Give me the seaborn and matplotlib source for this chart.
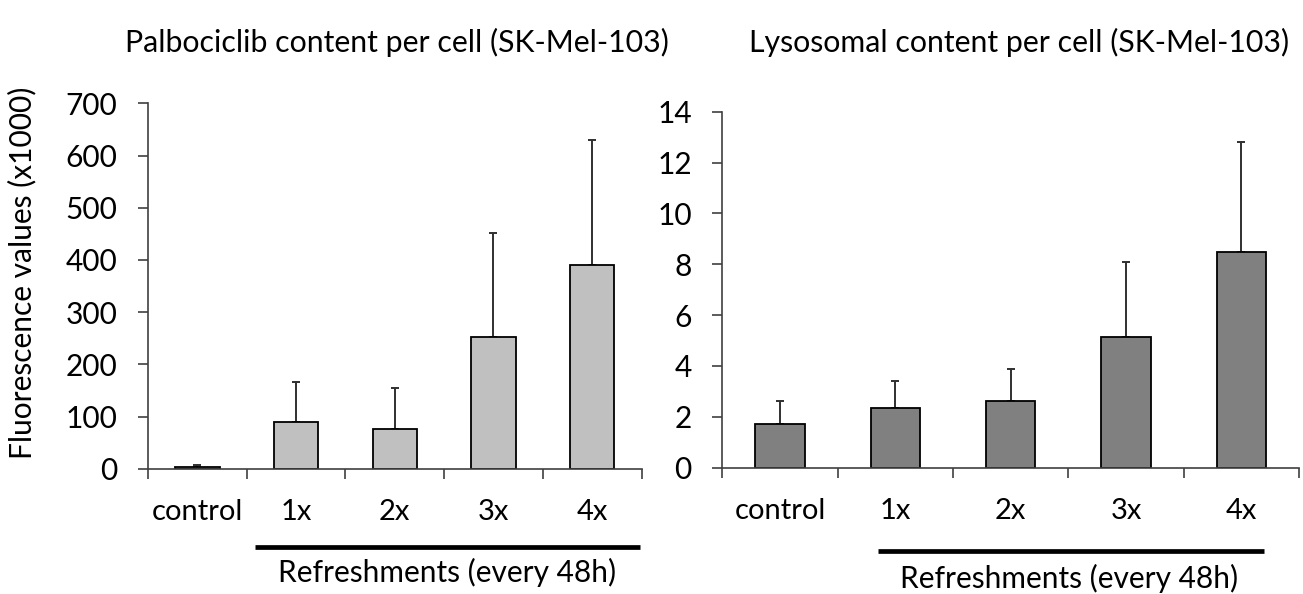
import numpy as np
import pandas as pd
import matplotlib
matplotlib.use("Agg")
import matplotlib.pyplot as plt
from matplotlib.lines import Line2D
from matplotlib.ticker import FixedLocator, NullFormatter, FuncFormatter
import seaborn as sns

# Treatment groups
categories = ["control", "1x", "2x", "3x", "4x"]

# Palbociclib fluorescence per cell (x1000): means and upper SD
palbo_mean = [4, 90, 77, 252, 391]
palbo_sd = [2.5, 76, 78, 199, 239]

# Lysosomal fluorescence per cell (x1000): means and upper SD
lyso_mean = [1.71, 2.35, 2.62, 5.15, 8.47]
lyso_sd = [0.92, 1.06, 1.25, 2.95, 4.34]

sns.set_theme(style="white")
plt.rcParams["font.family"] = ["Lato", "DejaVu Sans"]

AXIS_COLOR = "#404040"
TEXT_COLOR = "#000000"
TICK_FS = 21.5
CAT_FS = 21
TITLE_FS = 21.8
LABEL_FS = 21.5

fig = plt.figure(figsize=(13.03, 5.94), dpi=100)
W, H = 1303, 594


def add_axes_px(x0, x1, ytop, ybot):
    return fig.add_axes([x0 / W, 1 - ybot / H, (x1 - x0) / W, (ybot - ytop) / H])


ax1 = add_axes_px(148, 641.5, 103.3, 468.7)
ax2 = add_axes_px(722.3, 1299, 111.7, 467.7)


def draw_panel(ax, means, sds, color, width, ymax, ystep):
    df = pd.DataFrame({"group": categories, "value": means})
    sns.barplot(data=df, x="group", y="value", order=categories, color=color,
                saturation=1, width=width, edgecolor="black", linewidth=1.3,
                errorbar=None, ax=ax, zorder=2)
    xs = np.arange(len(categories))
    ax.errorbar(xs, means, yerr=[np.zeros(len(sds)), sds], fmt="none",
                ecolor="#303030", elinewidth=1.4, capsize=2.6, capthick=1.4,
                zorder=1)
    ax.set_xlim(-0.5, len(categories) - 0.5)
    ax.set_ylim(0, ymax)
    ax.set_yticks(np.arange(0, ymax + ystep / 2, ystep))
    ax.yaxis.set_major_formatter(FuncFormatter(lambda v, p: f"{v:g}"))
    # group labels centred under the bars, separator ticks between groups
    ax.xaxis.set_major_locator(FixedLocator(np.arange(-0.5, len(categories), 1.0)))
    ax.xaxis.set_major_formatter(NullFormatter())
    ax.xaxis.set_minor_locator(FixedLocator(xs))
    ax.set_xticklabels(categories, minor=True)
    ax.tick_params(axis="x", which="major", direction="out", length=7.5,
                   width=1.2, color=AXIS_COLOR, bottom=True)
    ax.tick_params(axis="x", which="minor", length=0, pad=22, labelsize=CAT_FS,
                   labelcolor=TEXT_COLOR, bottom=True)
    ax.tick_params(axis="y", which="major", direction="out", length=7.5,
                   width=1.2, color=AXIS_COLOR, pad=14.5, labelsize=TICK_FS,
                   labelcolor=TEXT_COLOR, left=True)
    ax.set_xlabel("")
    ax.set_ylabel("")
    for side in ("top", "right"):
        ax.spines[side].set_visible(False)
    for side in ("left", "bottom"):
        ax.spines[side].set_color(AXIS_COLOR)
        ax.spines[side].set_linewidth(1.2)
    ax.set_facecolor("white")


draw_panel(ax1, palbo_mean, palbo_sd, "#c0c0c0", 0.45, 700, 100)
draw_panel(ax2, lyso_mean, lyso_sd, "#808080", 0.43, 14, 2)

# Panel titles
fig.text(397 / W, 1 - 42 / H, "Palbociclib content per cell (SK-Mel-103)",
         ha="center", va="center", fontsize=TITLE_FS, color=TEXT_COLOR)
fig.text(1019 / W, 1 - 42 / H, "Lysosomal content per cell (SK-Mel-103)",
         ha="center", va="center", fontsize=TITLE_FS, color=TEXT_COLOR)

# Shared y-axis label
fig.text(22 / W, 1 - 273 / H, "Fluorescence values (x1000)", rotation=90,
         ha="center", va="center", fontsize=LABEL_FS, color=TEXT_COLOR)

# Brackets marking the refreshment groups
for (x0, x1, y, tx, ty) in [(255, 640, 546.7, 447, 572), (878, 1264, 551, 1069, 578)]:
    fig.add_artist(Line2D([x0 / W, x1 / W], [1 - y / H, 1 - y / H],
                          transform=fig.transFigure, color="black", linewidth=3.4,
                          solid_capstyle="butt"))
    fig.text(tx / W, 1 - ty / H, "Refreshments (every 48h)", ha="center",
             va="center", fontsize=LABEL_FS, color=TEXT_COLOR)

fig.savefig("out.png", dpi=100, facecolor="white")
